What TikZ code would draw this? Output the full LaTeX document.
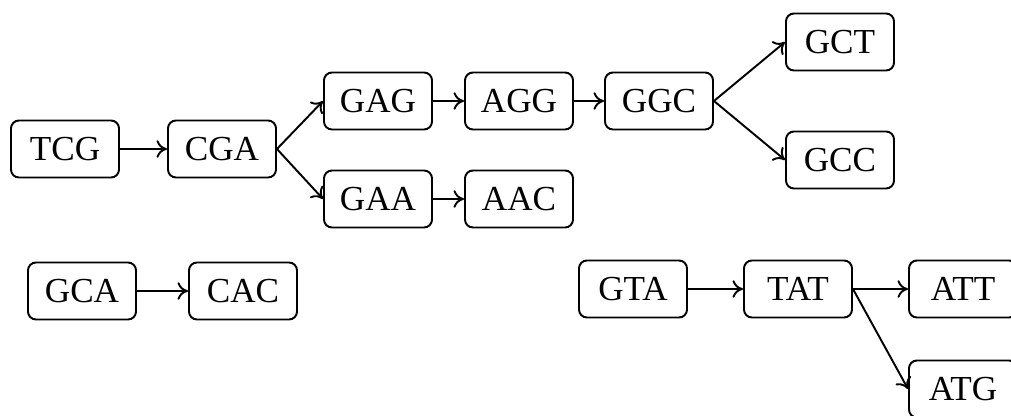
\documentclass[tikz,border=0pt]{standalone}
\usepackage{fontspec}
\setmainfont{Liberation Serif}
\usetikzlibrary{arrows.meta}

\tikzset{
	kmer/.style={draw,rectangle,rounded corners=4.5pt,line width=1.1pt,minimum width=2.16cm,minimum height=1.14cm,inner sep=0,font=\fontsize{20}{24}\selectfont},
	link/.style={-{To[length=6pt,width=10pt]},line width=1.1pt}
}

\begin{document}
\begin{tikzpicture}
	\useasboundingbox (0,0) rectangle (20.22,8.32);
	\node[kmer] (1) at (1.30,5.34) {TCG};
	\node[kmer] (2) at (4.44,5.34) {CGA};
	\node[kmer] (3) at (7.56,6.30) {GAG};
	\node[kmer] (4) at (10.38,6.30) {AGG};
	\node[kmer] (5) at (13.18,6.30) {GGC};
	\node[kmer] (6) at (16.80,7.48) {GCT};
	\node[kmer] (7) at (16.80,5.12) {GCC};
	\node[kmer] (8) at (7.56,4.34) {GAA};
	\node[kmer] (9) at (10.38,4.34) {AAC};
	\node[kmer] (10) at (1.64,2.50) {GCA};
	\node[kmer] (11) at (4.86,2.50) {CAC};
	\node[kmer] (12) at (12.66,2.54) {GTA};
	\node[kmer] (13) at (15.96,2.54) {TAT};
	\node[kmer] (14) at (19.26,2.54) {ATT};
	\node[kmer] (15) at (19.26,0.54) {ATG};
	\draw[link] (1) -- (2);
	\draw[link] (2.east) -- (3.west);
	\draw[link] (2.east) -- (8.west);
	\draw[link] (3) -- (4);
	\draw[link] (4) -- (5);
	\draw[link] (5.east) -- (6.west);
	\draw[link] (5.east) -- (7.west);
	\draw[link] (8) -- (9);
	\draw[link] (10) -- (11);
	\draw[link] (12) -- (13);
	\draw[link] (13.east) -- (14.west);
	\draw[link] (13.east) -- (15.west);
\end{tikzpicture}
\end{document}
